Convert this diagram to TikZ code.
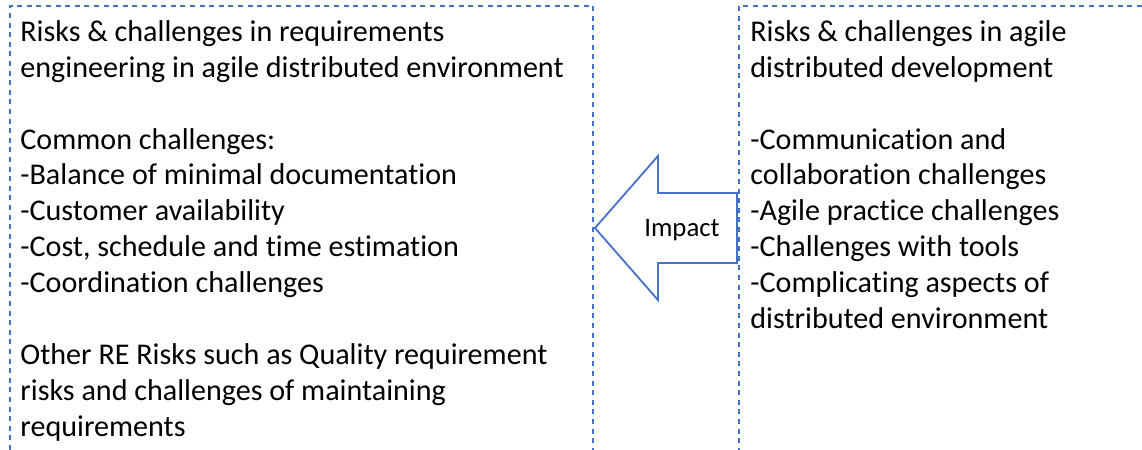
\documentclass[tikz,border=0pt]{standalone}
\usepackage{fontspec}
\setmainfont{Carlito}[Ligatures={NoCommon,NoContextual}]
\usetikzlibrary{positioning}
\definecolor{officeblue}{HTML}{4472C4}
\tikzset{
    box/.style={officeblue, line width=1pt, dash pattern=on 2.5pt off 2.3pt},
    txt/.style={anchor=north west, inner sep=0, align=left, font=\fontsize{15.05}{17.95}\selectfont},
    blockarrow/.style={officeblue, line width=0.9pt, fill=white, line join=miter},
  }
\begin{document}
\begin{tikzpicture}[x=0.5pt, y=-0.5pt]
      \useasboundingbox (0,0) rectangle (1142,450);
      % the two dashed panels, open at the bottom
      \draw[box] (10,450) -- (10,6) -- (593,6) -- (593,450);
      \draw[box] (1142,6) -- (739,6) -- (739,450);

      \node (re) [txt] at (20,20) {Risks \& challenges in requirements\\
        engineering in agile distributed environment\\[17.95pt]
        Common challenges:\\
        -Balance of minimal documentation\\
        -Customer availability\\
        -Cost, schedule and time estimation\\
        -Coordination challenges\\[17.95pt]
        Other RE Risks such as Quality requirement\\
        risks and challenges of maintaining\\
        requirements};
      \node (ad) [txt] at (750,20) {Risks \& challenges in agile\\
        distributed development\\[17.95pt]
        -Communication and\\
        collaboration challenges\\
        -Agile practice challenges\\
        -Challenges with tools\\
        -Complicating aspects of\\
        distributed environment};

      % block arrow pointing from right panel to left panel
      \coordinate (tip) at (595,228);
      \draw[blockarrow] (tip) -- (658,156) -- (658,193) -- (737,193)
            -- (737,263) -- (658,263) -- (658,300) -- cycle;
      \node (impact) [font=\fontsize{13.4}{16}\selectfont, inner sep=0] at (682,230) {Impact};
  \end{tikzpicture}
\end{document}
